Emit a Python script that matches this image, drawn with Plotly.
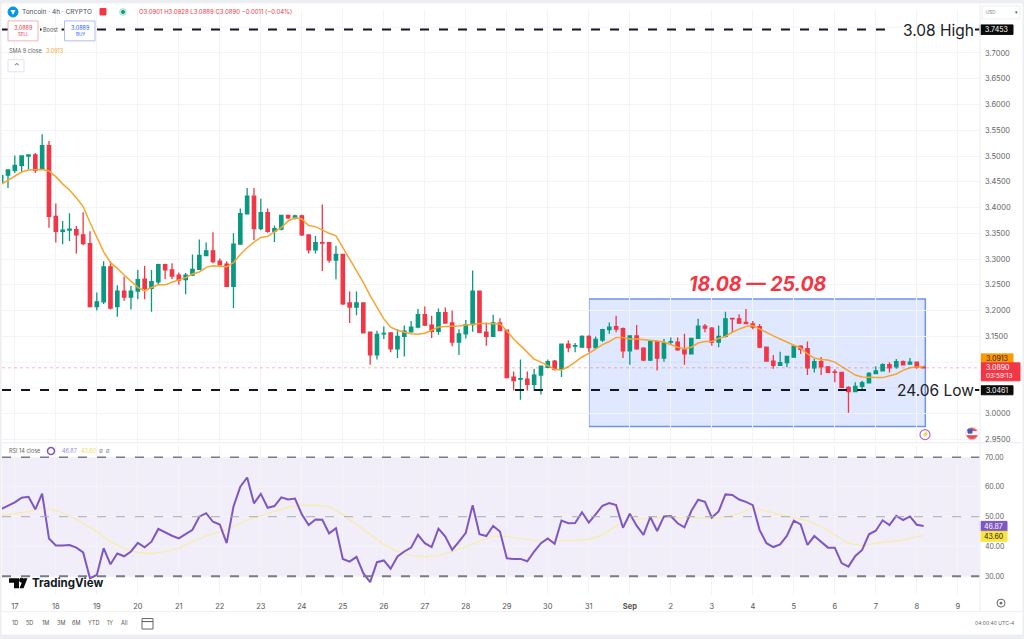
import pandas as pd
import plotly.graph_objects as go

W, H = 1024, 639
FONT = "Inter"

# 4h candles
opens = [3.449, 3.463, 3.472, 3.482, 3.500, 3.502, 3.474, 3.520, 3.383, 3.354,
         3.356, 3.357, 3.347, 3.330, 3.208, 3.217, 3.285, 3.208, 3.238, 3.226,
         3.238, 3.261, 3.243, 3.256, 3.289, 3.279, 3.269, 3.260, 3.269, 3.280,
         3.307, 3.316, 3.296, 3.290, 3.247, 3.329, 3.388, 3.422, 3.359, 3.390,
         3.354, 3.358, 3.385, 3.380, 3.384, 3.347, 3.318, 3.332, 3.332, 3.298,
         3.309, 3.215, 3.207, 3.215, 3.158, 3.114, 3.155, 3.157, 3.126, 3.150,
         3.159, 3.168, 3.192, 3.172, 3.160, 3.196, 3.176, 3.139, 3.155, 3.173,
         3.238, 3.158, 3.150, 3.176, 3.162, 3.071, 3.067, 3.067, 3.057, 3.075,
         3.090, 3.102, 3.086, 3.135, 3.131, 3.129, 3.150, 3.128, 3.143, 3.163,
         3.169, 3.165, 3.122, 3.151, 3.127, 3.104, 3.140, 3.108, 3.139, 3.139,
         3.124, 3.116, 3.146, 3.170, 3.166, 3.139, 3.150, 3.185, 3.184, 3.177,
         3.174, 3.169, 3.129, 3.102, 3.094, 3.099, 3.110, 3.131, 3.126, 3.089,
         3.101, 3.091, 3.081, 3.080, 3.051, 3.043, 3.053, 3.060, 3.078, 3.083,
         3.095, 3.091, 3.101, 3.096, 3.100, 3.0901]
highs = [3.464, 3.474, 3.501, 3.501, 3.502, 3.506, 3.542, 3.529, 3.408, 3.374,
         3.389, 3.364, 3.391, 3.354, 3.235, 3.296, 3.296, 3.249, 3.266, 3.248,
         3.279, 3.287, 3.279, 3.291, 3.291, 3.292, 3.274, 3.273, 3.309, 3.338,
         3.332, 3.352, 3.301, 3.296, 3.350, 3.398, 3.438, 3.438, 3.417, 3.398,
         3.365, 3.386, 3.386, 3.386, 3.386, 3.348, 3.345, 3.406, 3.332, 3.326,
         3.309, 3.237, 3.237, 3.215, 3.158, 3.161, 3.169, 3.158, 3.164, 3.171,
         3.180, 3.203, 3.208, 3.190, 3.204, 3.206, 3.200, 3.164, 3.182, 3.278,
         3.238, 3.177, 3.192, 3.185, 3.162, 3.082, 3.105, 3.082, 3.087, 3.093,
         3.105, 3.104, 3.136, 3.142, 3.137, 3.152, 3.152, 3.150, 3.165, 3.177,
         3.190, 3.167, 3.152, 3.172, 3.129, 3.142, 3.142, 3.145, 3.148, 3.148,
         3.155, 3.146, 3.184, 3.174, 3.168, 3.171, 3.198, 3.185, 3.193, 3.203,
         3.180, 3.174, 3.129, 3.114, 3.120, 3.111, 3.133, 3.133, 3.140, 3.106,
         3.110, 3.092, 3.086, 3.080, 3.053, 3.061, 3.064, 3.081, 3.092, 3.098,
         3.100, 3.106, 3.103, 3.108, 3.101, 3.0928]
lows = [3.448, 3.438, 3.467, 3.469, 3.474, 3.467, 3.473, 3.361, 3.332, 3.329,
        3.335, 3.311, 3.327, 3.206, 3.200, 3.213, 3.202, 3.188, 3.219, 3.202,
        3.222, 3.222, 3.198, 3.251, 3.261, 3.261, 3.250, 3.232, 3.267, 3.279,
        3.306, 3.292, 3.287, 3.247, 3.205, 3.329, 3.387, 3.337, 3.356, 3.351,
        3.333, 3.356, 3.378, 3.377, 3.345, 3.311, 3.311, 3.277, 3.293, 3.261,
        3.211, 3.176, 3.191, 3.157, 3.095, 3.105, 3.145, 3.119, 3.108, 3.111,
        3.158, 3.166, 3.170, 3.147, 3.153, 3.176, 3.131, 3.114, 3.146, 3.159,
        3.157, 3.132, 3.150, 3.160, 3.070, 3.045, 3.027, 3.045, 3.045, 3.037,
        3.088, 3.084, 3.071, 3.119, 3.119, 3.128, 3.120, 3.126, 3.139, 3.155,
        3.158, 3.108, 3.095, 3.124, 3.102, 3.102, 3.084, 3.101, 3.135, 3.122,
        3.095, 3.115, 3.145, 3.158, 3.132, 3.129, 3.148, 3.158, 3.174, 3.174,
        3.164, 3.127, 3.101, 3.087, 3.093, 3.090, 3.108, 3.116, 3.075, 3.080,
        3.075, 3.079, 3.061, 3.050, 3.002, 3.042, 3.048, 3.059, 3.077, 3.082,
        3.080, 3.087, 3.095, 3.095, 3.087, 3.0889]
closes = [3.462, 3.473, 3.482, 3.500, 3.502, 3.472, 3.520, 3.383, 3.354, 3.356,
          3.358, 3.347, 3.330, 3.208, 3.217, 3.285, 3.205, 3.238, 3.226, 3.238,
          3.260, 3.243, 3.256, 3.289, 3.279, 3.267, 3.259, 3.269, 3.280, 3.307,
          3.316, 3.295, 3.289, 3.247, 3.329, 3.388, 3.422, 3.359, 3.390, 3.354,
          3.359, 3.385, 3.380, 3.384, 3.347, 3.318, 3.332, 3.331, 3.298, 3.309,
          3.213, 3.207, 3.215, 3.157, 3.114, 3.154, 3.156, 3.126, 3.150, 3.160,
          3.168, 3.192, 3.172, 3.160, 3.196, 3.176, 3.139, 3.155, 3.173, 3.238,
          3.158, 3.150, 3.176, 3.161, 3.070, 3.064, 3.068, 3.057, 3.075, 3.092,
          3.101, 3.086, 3.135, 3.128, 3.132, 3.150, 3.128, 3.144, 3.163, 3.168,
          3.164, 3.122, 3.151, 3.126, 3.104, 3.140, 3.108, 3.137, 3.140, 3.124,
          3.116, 3.146, 3.170, 3.166, 3.139, 3.150, 3.184, 3.184, 3.176, 3.175,
          3.168, 3.129, 3.102, 3.094, 3.099, 3.111, 3.131, 3.125, 3.089, 3.101,
          3.091, 3.080, 3.080, 3.051, 3.043, 3.053, 3.060, 3.078, 3.083, 3.095,
          3.089, 3.101, 3.095, 3.100, 3.0901, 3.0890]
sma9 = [3.445, 3.453, 3.461, 3.469, 3.473, 3.473, 3.474, 3.471, 3.460, 3.446,
        3.434, 3.419, 3.402, 3.371, 3.342, 3.314, 3.293, 3.282, 3.269, 3.256,
        3.245, 3.238, 3.245, 3.250, 3.250, 3.255, 3.260, 3.264, 3.271, 3.275,
        3.284, 3.287, 3.286, 3.285, 3.293, 3.309, 3.322, 3.333, 3.342, 3.344,
        3.353, 3.361, 3.374, 3.380, 3.378, 3.365, 3.363, 3.356, 3.350, 3.345,
        3.322, 3.300, 3.277, 3.255, 3.229, 3.206, 3.184, 3.168, 3.162, 3.158,
        3.155, 3.154, 3.156, 3.162, 3.168, 3.169, 3.169, 3.170, 3.172, 3.174,
        3.175, 3.175, 3.175, 3.174, 3.161, 3.145, 3.132, 3.119, 3.106, 3.100,
        3.093, 3.086, 3.085, 3.091, 3.100, 3.110, 3.117, 3.126, 3.134, 3.140,
        3.148, 3.148, 3.145, 3.145, 3.144, 3.143, 3.141, 3.139, 3.134, 3.129,
        3.126, 3.129, 3.137, 3.140, 3.140, 3.146, 3.150, 3.158, 3.164, 3.169,
        3.171, 3.164, 3.158, 3.151, 3.145, 3.139, 3.132, 3.127, 3.116, 3.108,
        3.105, 3.104, 3.100, 3.092, 3.084, 3.075, 3.071, 3.070, 3.070, 3.070,
        3.073, 3.077, 3.084, 3.089, 3.0905, 3.0913]
rsi = [52.6, 53.6, 54.8, 56.4, 56.7, 52.5, 57.8, 42.7, 40.3, 40.3,
       40.5, 39.6, 38.0, 29.3, 30.4, 39.4, 34.0, 37.6, 36.7, 38.3,
       41.2, 39.7, 41.6, 45.9, 44.7, 43.6, 42.7, 44.1, 45.6, 50.0,
       51.2, 48.3, 47.4, 41.1, 53.4, 60.1, 63.2, 54.5, 57.7, 53.0,
       53.6, 56.5, 55.8, 56.1, 50.8, 47.2, 49.1, 49.0, 44.4, 46.1,
       35.8, 34.9, 36.5, 31.0, 28.0, 34.7, 35.3, 32.5, 36.6, 38.3,
       39.6, 43.9, 41.1, 39.8, 46.0, 43.3, 38.8, 41.6, 44.6, 53.9,
       44.1, 43.5, 46.9, 45.0, 36.0, 35.8, 35.8, 35.0, 38.3, 41.1,
       42.7, 40.9, 48.7, 47.8, 47.9, 51.5, 48.0, 50.8, 53.7, 54.6,
       53.9, 46.3, 51.0, 47.0, 43.9, 49.9, 45.2, 50.1, 50.2, 47.8,
       46.4, 51.9, 55.7, 55.0, 49.7, 51.8, 57.5, 57.3, 55.8, 55.0,
       53.9, 45.5, 41.1, 39.8, 40.7, 43.6, 48.7, 47.4, 40.5, 43.5,
       41.4, 39.6, 39.6, 34.4, 33.2, 36.8, 38.8, 44.1, 45.3, 48.8,
       47.2, 50.3, 48.9, 50.1, 47.3, 46.87]
# yellow average, read at every second bar plus the last one
rsi_ma = [50.3, 51.1, 51.7, 53.1, 52.1, 50.4, 47.8, 45.0, 41.6, 39.4,
          38.0, 37.6, 38.3, 39.4, 41.6, 43.5, 45.0, 46.6, 48.9, 50.3,
          51.7, 53.2, 53.8, 53.9, 53.4, 50.8, 47.4, 43.9, 40.7, 38.3,
          37.0, 36.6, 36.9, 38.3, 39.9, 41.8, 43.5, 43.4, 42.7, 42.0,
          41.6, 42.0, 42.1, 42.4, 43.9, 47.0, 48.9, 49.4, 49.7, 49.7,
          49.7, 49.7, 49.4, 50.0, 51.1, 53.0, 51.9, 50.6, 49.7, 48.7,
          46.6, 43.9, 41.1, 40.3, 41.1, 41.6, 42.2, 43.3, 43.60]

tick_dates = ["2025-08-17", "2025-08-18", "2025-08-19", "2025-08-20", "2025-08-21", "2025-08-22",
              "2025-08-23", "2025-08-24", "2025-08-25", "2025-08-26", "2025-08-27", "2025-08-28",
              "2025-08-29", "2025-08-30", "2025-08-31", "2025-09-01", "2025-09-02", "2025-09-03",
              "2025-09-04", "2025-09-05", "2025-09-06", "2025-09-07", "2025-09-08", "2025-09-09"]
tick_labels = ["17", "18", "19", "20", "21", "22", "23", "24", "25", "26", "27", "28",
               "29", "30", "31", "<b>Sep</b>", "2", "3", "4", "5", "6", "7", "8", "9"]
price_ticks = [2.95, 3.0, 3.15, 3.2, 3.25, 3.3, 3.35, 3.4, 3.45, 3.5, 3.55, 3.6, 3.65, 3.7]
# these levels are hidden behind the axis labels, only their grid lines show
hidden_levels = [3.05, 3.1, 3.75]
rsi_ticks = [30, 40, 50, 60, 70]
range_buttons = ["1D", "5D", "1M", "3M", "6M", "YTD", "1Y", "All"]
range_button_x = [15, 29, 45, 61, 76, 93, 110, 124]

dates = list(pd.date_range("2025-08-16 16:00", periods=len(closes), freq="4h"))
ma_dates = dates[:-1:2] + [dates[-1]]

shapes = []
annotations = []


def px(x):
    return x / W


def py(y):
    return 1 - y / H


def text(s, x, y, size=7, color="#555", anchor="left", **kw):
    annotations.append(dict(text=s, xref="paper", yref="paper", x=px(x), y=py(y), xanchor=anchor,
                            yanchor="middle", showarrow=False, font=dict(family=FONT, size=size, color=color),
                            borderpad=0, **kw))


def box(x0, y0, x1, y1, fill="rgba(0,0,0,0)", line=None, width=1, kind="rect", layer="above"):
    shapes.append(dict(type=kind, xref="paper", yref="paper", x0=px(x0), x1=px(x1), y0=py(y0), y1=py(y1),
                       fillcolor=fill, line=dict(color=line or fill, width=width), layer=layer))


def path(points, fill="#131722"):
    d = "M" + " L".join(f"{px(a)},{py(b)}" for a, b in points) + " Z"
    shapes.append(dict(type="path", xref="paper", yref="paper", path=d, fillcolor=fill, line=dict(width=0)))


def hline(x0, x1, value, yref, color, width, dash, layer="above"):
    shapes.append(dict(type="line", xref="paper", yref=yref, x0=px(x0), x1=px(x1), y0=value, y1=value,
                       line=dict(color=color, width=width, dash=dash), layer=layer))


# page frame
box(2, 4, 1022, 636, fill="white", layer="below")

for level in hidden_levels:
    hline(2, 980, level, "y", "#f3f4f7", 1, "solid", layer="below")

# selection box
shapes.append(dict(type="rect", xref="x", yref="y", x0="2025-08-31 00:00", x1="2025-09-08 05:00", y0=2.975, y1=3.2224,
                   fillcolor="rgba(41,98,255,0.15)", line=dict(color="#6f93ee", width=1.5), layer="below"))
text("<b><i>18.08 — 25.08</i></b>", 758, 285, size=19.5, color="#f23645", anchor="center")

# RSI pane band and levels
shapes.append(dict(type="rect", xref="paper", yref="y2", x0=px(2), x1=px(980), y0=30, y1=70,
                   fillcolor="rgba(126,87,194,0.1)", line=dict(width=0), layer="below"))
hline(2, 980, 70, "y2", "#787b86", 1.5, "9px,10px")
hline(2, 980, 50, "y2", "#a9abb3", 1, "9px,10px")
hline(2, 980, 30, "y2", "#787b86", 2, "9px,10px")

# high / low / last price lines
hline(2, 893, 3.7453, "y", "#131722", 2, "9px,10px")
hline(975, 980, 3.7453, "y", "#131722", 2, "solid")
hline(2, 888, 3.0461, "y", "#131722", 2, "9px,10px")
hline(975, 980, 3.0461, "y", "#131722", 2, "solid")
hline(2, 980, 3.0890, "y", "rgba(242,54,69,0.35)", 1, "dot")
text("3.08 High", 902, 31, size=15.5, color="#222")
text("24.06 Low", 896, 392, size=15.5, color="#222")

# price labels on the axis
box(980, 25, 1013, 34.5, fill="#0b0b0b")
text("3.7453", 996.5, 30, size=7, color="white", anchor="center")
box(981, 355, 1013, 364, fill="#ff9800")
text("3.0913", 997, 359.5, size=7, color="#222", anchor="center")
box(981, 364, 1020, 382, fill="#f23645")
text("3.0890", 985, 369, size=7, color="white")
text("03:59:13", 985, 377, size=6.5, color="white")
box(981, 387, 1013, 396, fill="#0b0b0b")
text("3.0461", 997, 391.5, size=7, color="white", anchor="center")
box(980, 523, 1007, 533, fill="#7e57c2")
text("46.87", 993.5, 528, size=7, color="white", anchor="center")
box(980, 533, 1007, 543, fill="#fbe341")
text("43.60", 993.5, 538, size=7, color="#222", anchor="center")

# header
box(8, 7, 18, 17, fill="#0098ea", kind="circle")
path([(10.5, 10), (15.5, 10), (13, 15)], fill="white")
text("Toncoin · 4h · CRYPTO", 21, 12, size=6.5, color="#4a4d55")
box(100, 8.5, 106, 15, fill="#f23645")
box(119.5, 8.5, 126.5, 15.5, fill="rgba(8,153,129,0.2)", kind="circle")
box(121.5, 10.5, 124.5, 13.5, fill="#089981", kind="circle")
text("O3.0901 H3.0928 L3.0889 C3.0890 −0.0011 (−0.04%)", 138, 12, size=6, color="#f23645")
box(8, 21, 38, 41, fill="white", line="#f2b3b7")
text("3.0889", 23, 28, size=5.5, color="#f23645", anchor="center")
text("SELL", 23, 35, size=4.5, color="#f23645", anchor="center")
box(42, 26, 61, 34, fill="white")
text("Boost", 42, 30, size=5.5, color="#555")
box(64.5, 21, 95, 41, fill="white", line="#aebff2")
text("3.0889", 80, 28, size=5.5, color="#2962ff", anchor="center")
text("BUY", 80, 35, size=4.5, color="#2962ff", anchor="center")
text("SMA 9 close", 8, 51, size=5.5, color="#666")
text("3.0913", 45, 51, size=5.5, color="#f5a623")
box(8, 60, 24, 72, fill="white", line="#e0e3eb")
text("⌃", 16, 67, size=7, color="#444", anchor="center")
box(982, 6, 1020, 19, fill="white", line="#eceef2")
text("USD", 985, 12.5, size=4.5, color="#777")
text("▾", 1016, 12.5, size=5, color="#555", anchor="center")

# RSI legend
text("RSI 14 close", 8, 452, size=5.5, color="#666")
box(47.5, 449, 54.5, 456, line="#7e57c2", width=1.5, kind="circle")
text("46.87", 61, 452, size=5.5, color="#a08bd6")
text("43.60", 80, 452, size=5.5, color="#f0dc5a")
text("∅  ∅", 98, 452, size=5.5, color="#888")

# TradingView logo
path([(9, 580), (19, 580), (19, 590), (14, 590), (14, 584.5), (9, 584.5)], fill="#0b0b0b")
box(19.5, 580, 23.5, 584, fill="#0b0b0b", kind="circle")
path([(23.5, 580), (27.5, 580), (23.5, 590), (19.5, 590)], fill="#0b0b0b")
text("<b>TradingView</b>", 31, 584.5, size=11.5, color="#131722")

# bottom bar
for name, bx in zip(range_buttons, range_button_x):
    text(name, bx, 625, size=5.5, color="#555", anchor="center")
box(142, 620.5, 153, 631, line="#666")
box(142, 623.5, 153, 623.5, line="#666")
text("04:00:40 UTC-4", 1015, 625, size=5, color="#666", anchor="right")
box(997, 601, 1005, 609, line="#666", kind="circle")
box(1000, 604, 1002, 606, fill="#666", kind="circle")

# pane separators
box(2, 444, 1022, 444, line="#eef0f3")
box(2, 613.5, 1022, 613.5, line="#f0f1f4")
box(980, 4, 980, 613, line="#f2f3f6")

# event markers
box(920, 431, 930, 441, fill="white", line="#ab6ad1", width=1.2, kind="circle")
text("⚡", 925, 436, size=5.5, color="#ab47bc", anchor="center")
box(966, 429, 978, 441, fill="#e9505c", line="#f2aeb3", kind="circle")
box(966.5, 433, 977.5, 436, fill="white")
box(968, 430.5, 972, 434.5, fill="#3c5fb0")

fig = go.Figure()
fig.add_trace(go.Candlestick(
    x=dates, open=opens, high=highs, low=lows, close=closes, xaxis="x", yaxis="y",
    increasing=dict(line=dict(color="#089981", width=1.3), fillcolor="#089981"),
    decreasing=dict(line=dict(color="#f23645", width=1.3), fillcolor="#f23645"),
    showlegend=False))
fig.add_trace(go.Scatter(x=dates, y=sma9, mode="lines", xaxis="x", yaxis="y",
                         line=dict(color="#f7a530", width=1.5)))
fig.add_trace(go.Scatter(x=ma_dates, y=rsi_ma, mode="lines", xaxis="x2", yaxis="y2",
                         line=dict(color="#f8eba8", width=1.2)))
fig.add_trace(go.Scatter(x=dates, y=rsi, mode="lines", xaxis="x2", yaxis="y2",
                         line=dict(color="#7e57c2", width=2)))

x_range = ["2025-08-16 16:30", "2025-09-09 13:00"]
grid = "#f3f4f7"
fig.update_layout(
    width=W, height=H, margin=dict(l=0, r=0, t=0, b=0),
    paper_bgcolor="#eceef1", plot_bgcolor="rgba(0,0,0,0)",
    showlegend=False, font=dict(family=FONT),
    shapes=shapes, annotations=annotations,
    xaxis=dict(domain=[px(2), px(980)], range=x_range, anchor="y", type="date", tickmode="array",
               tickvals=tick_dates, showticklabels=False, gridcolor=grid, rangeslider=dict(visible=False),
               zeroline=False, showline=False),
    yaxis=dict(domain=[py(443), py(10)], range=[2.9458, 3.7834], anchor="x", side="right", tickmode="array",
               tickvals=price_ticks, tickformat=".4f", gridcolor=grid, zeroline=False, ticks="",
               ticklabelstandoff=4, tickfont=dict(family=FONT, size=7.5, color="#666")),
    xaxis2=dict(domain=[px(2), px(980)], range=x_range, anchor="y2", type="date", tickmode="array",
                tickvals=tick_dates, ticktext=tick_labels, gridcolor=grid, zeroline=False, ticks="",
                ticklabelstandoff=5, tickfont=dict(family=FONT, size=7.5, color="#555"), tickangle=0),
    yaxis2=dict(domain=[py(597), py(446)], range=[23.62, 74.26], anchor="x2", side="right", tickmode="array",
                tickvals=rsi_ticks, tickformat=".2f", gridcolor=grid, zeroline=False, ticks="",
                ticklabelstandoff=4, tickfont=dict(family=FONT, size=7, color="#666")),
)

fig.write_html("out.html", config=dict(displayModeBar=False),
               post_script="document.body.style.margin='0';document.body.style.overflow='hidden';")
